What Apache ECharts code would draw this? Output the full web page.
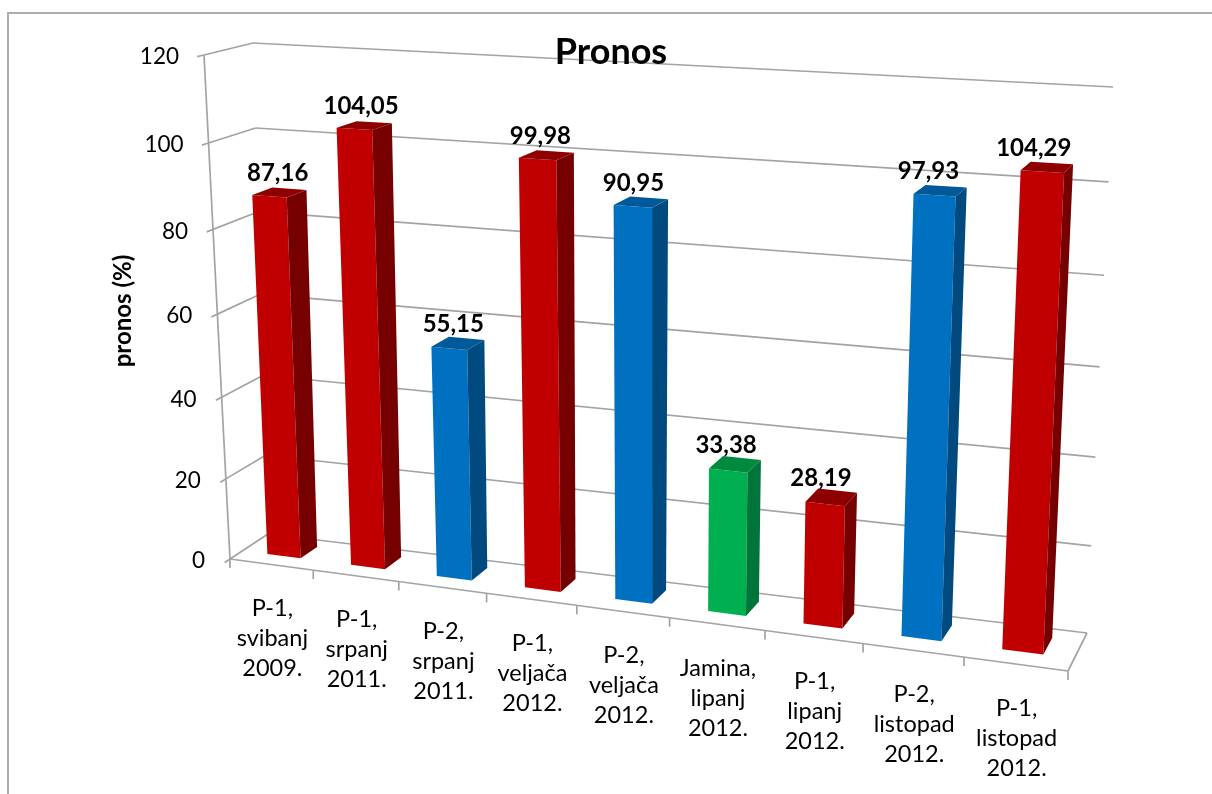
<!DOCTYPE html>
<html><head><meta charset="utf-8">
<style>html,body{margin:0;padding:0;background:#fff}#c{width:1212px;height:794px}</style>
<script src="https://cdn.jsdelivr.net/npm/echarts@6/dist/echarts.min.js"></script>
</head><body><div id="c"></div>
<script>
const categories = ['P-1,\nsvibanj\n2009.','P-1,\nsrpanj\n2011.','P-2,\nsrpanj\n2011.','P-1,\nveljača\n2012.','P-2,\nveljača\n2012.','Jamina,\nlipanj\n2012.','P-1,\nlipanj\n2012.','P-2,\nlistopad\n2012.','P-1,\nlistopad\n2012.'];
const values = [87.16,104.05,55.15,99.98,90.95,33.38,28.19,97.93,104.29];
const barKinds = ['red','red','blue','red','blue','green','red','blue','red'];
const yTicks = [0,20,40,60,80,100,120];
const titleText = 'Pronos';
const yAxisName = 'pronos (%)';

const palette = {
  red:{front:'#c00000',side:'#760000',top:'#8e0000'},
  blue:{front:'#0070c0',side:'#004a7f',top:'#005a9a'},
  green:{front:'#00b050',side:'#00753a',top:'#008a40'}
};
const FONT='Lato, Carlito, sans-serif', GRID='#a3a3a3';

function homography(q){
  const [x0,y0]=q[0],[x1,y1]=q[1],[x2,y2]=q[2],[x3,y3]=q[3];
  const dx1=x1-x2,dx2=x3-x2,sx=x0-x1+x2-x3,dy1=y1-y2,dy2=y3-y2,sy=y0-y1+y2-y3;
  const den=dx1*dy2-dx2*dy1,g=(sx*dy2-dx2*sy)/den,h=(dx1*sy-sx*dy1)/den;
  const a=x1-x0+g*x1,b=x3-x0+h*x3,d=y1-y0+g*y1,e=y3-y0+h*y3;
  return (u,v)=>{const w=g*u+h*v+1;return [(a*u+b*v+x0)/w,(d*u+e*v+y0)/w];};
}
// perspective box of the 3-D chart: bottom-left, bottom-right, top-right, top-left
const frontPlane=homography([[230,559],[1068,671],[1094,103],[204,55]]);
const backPlane=homography([[268,534],[1087,633],[1113,87],[253,43]]);
function project(u,v,z){
  const f=frontPlane(u,v),b=backPlane(u,v);
  return [f[0]+(b[0]-f[0])*z,f[1]+(b[1]-f[1])*z];
}
const BAR_Z0=0.33,BAR_Z1=0.77,BAR_W=0.40,BAR_SHIFT=0.002;
function norm(api,params,cat,val){
  const c=api.coord([cat,val]),s=params.coordSys;
  return {u:(c[0]-s.x)/s.width,v:1-(c[1]-s.y)/s.height,band:api.size([1,0])[0]/s.width};
}
function poly(points,fill,stroke,w){
  return {type:'polygon',shape:{points},style:{fill:fill||'none',stroke:stroke||null,lineWidth:w||0}};
}
function line(a,b,w){
  return {type:'line',shape:{x1:a[0],y1:a[1],x2:b[0],y2:b[1]},style:{stroke:GRID,lineWidth:w||1.7}};
}
function renderWall(params,api){
  const n=norm(api,params,0,api.value(0)),v=n.v;
  const fl=project(0,v,0),bl=project(0,v,1),br=project(1,v,1),t=project(0,v,-0.14);
  return {type:'group',children:[
    line(bl,br),line(fl,bl),line(fl,t),
    {type:'text',x:fl[0]-25,y:fl[1]+2,style:{text:String(api.value(0)),fill:'#000',font:'22.5px '+FONT,textAlign:'right',textVerticalAlign:'middle'}}
  ]};
}
function renderFrame(params,api){
  const v0=norm(api,params,0,0).v,v1=norm(api,params,0,120).v;
  const band=norm(api,params,0,0).band;
  const kids=[line(project(0,v0,0),project(0,v1,0)),line(project(0,v0,0),project(1,v0,0)),line(project(1,v0,0),project(1,v0,1))];
  for(let i=0;i<=categories.length;i++){
    const p=project(i*band,v0,0);
    kids.push(line(p,[p[0],p[1]+9]));
  }
  kids.push({type:'polyline',shape:{points:[[1212,13],[8,13],[8,794]]},style:{stroke:'#adadad',lineWidth:2,fill:'none'}});
  kids.push({type:'text',x:123,y:311,rotation:Math.PI/2,style:{text:yAxisName,fill:'#000',font:'bold 24px '+FONT,textAlign:'center',textVerticalAlign:'middle'}});
  return {type:'group',children:kids};
}
function renderBar(params,api){
  const i=api.value(0),val=api.value(1),col=palette[barKinds[i]];
  const n=norm(api,params,i,val),b=norm(api,params,i,0);
  const l=n.u+(BAR_SHIFT-BAR_W/2)*n.band,r=n.u+(BAR_SHIFT+BAR_W/2)*n.band;
  const P=(u,v,z)=>project(u,v,z);
  const a=P(l,b.v,BAR_Z0),c=P(r,b.v,BAR_Z0),d=P(r,n.v,BAR_Z0),e=P(l,n.v,BAR_Z0);
  const f=P(r,b.v,BAR_Z1),g=P(r,n.v,BAR_Z1),h=P(l,n.v,BAR_Z1);
  const m=P(n.u+BAR_SHIFT*n.band,n.v,(BAR_Z0+BAR_Z1)/2);
  return {type:'group',children:[
    poly([a,c,d,e],col.front),
    poly([c,f,g,d],col.side),
    poly([e,d,g,h],col.top),
    {type:'text',x:m[0]-1-13*n.u,y:m[1]-19,z2:5,style:{text:val.toFixed(2).replace('.',','),fill:'#000',font:'bold 24px '+FONT,textAlign:'center',textVerticalAlign:'middle'}}
  ]};
}
function renderCat(params,api){
  const i=api.value(0),n=norm(api,params,i,0),p=project(n.u,n.v,0);
  return {type:'text',x:p[0]+1,y:p[1]+74,style:{text:categories[i],fill:'#000',font:'23.5px '+FONT,lineHeight:30,textAlign:'center',textVerticalAlign:'middle'}};
}
const chart=echarts.init(document.getElementById('c'),null,{renderer:'canvas'});
const custom=(name,render,data,z)=>({type:'custom',name,renderItem:render,data,z,clip:false,silent:true,animation:false});
chart.setOption({
  animation:false,backgroundColor:'#fff',
  title:{text:titleText,left:606,top:29,textAlign:'center',textStyle:{fontFamily:FONT,fontSize:36,fontWeight:'bold',color:'#000'},z:20},
  tooltip:{show:false},
  grid:{left:0,right:0,top:0,bottom:0},
  xAxis:{type:'category',data:categories,show:false},
  yAxis:{type:'value',min:0,max:120,interval:20,show:false},
  series:[
    custom('walls',renderWall,yTicks.map(t=>[t]),1),
    custom('frame',renderFrame,[[0]],2),
    custom('categories',renderCat,categories.map((_,i)=>[i]),3),
    custom('Pronos',renderBar,values.map((v,i)=>[i,v]),4)
  ]
});
</script></body></html>
